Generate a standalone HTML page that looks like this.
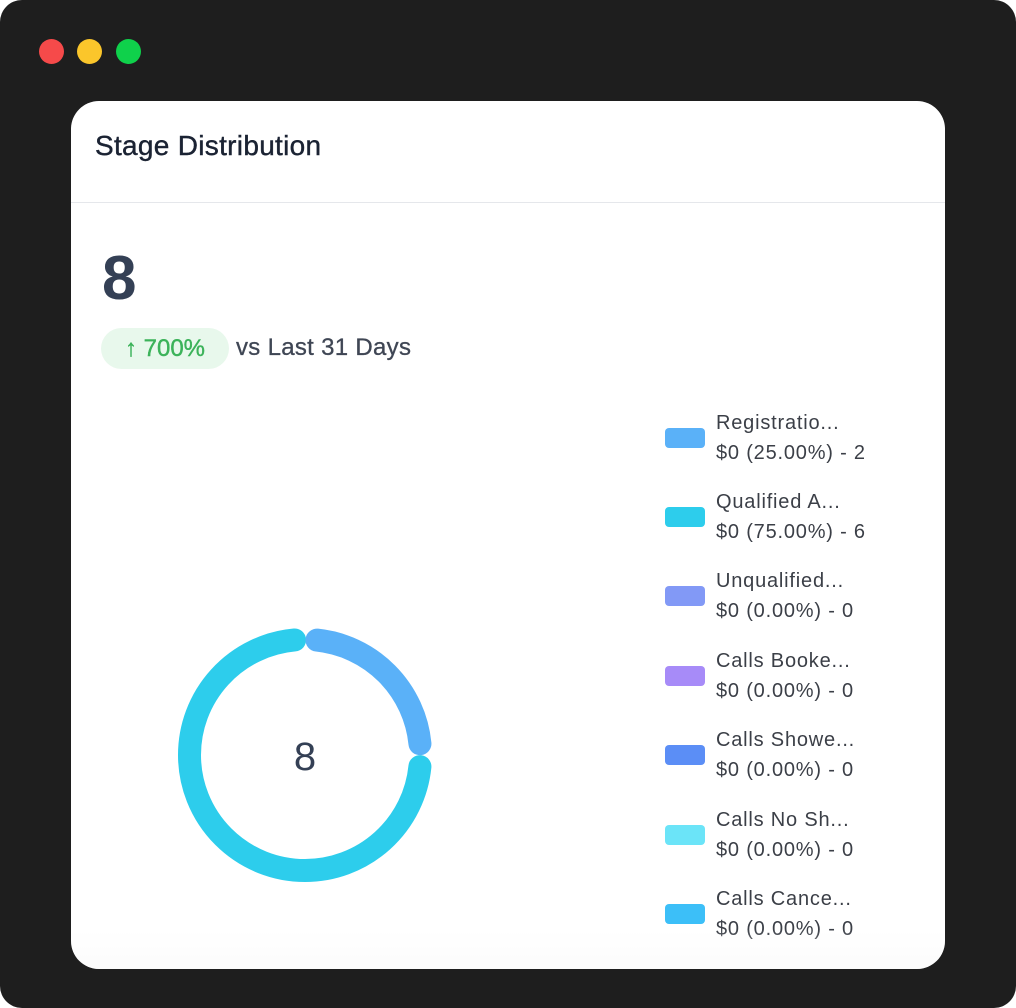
<!DOCTYPE html>
<html><head><meta charset="utf-8"><style>
html,body{margin:0;padding:0;background:#fff;}
body{width:1016px;height:1008px;position:relative;overflow:hidden;font-family:"Liberation Sans",sans-serif;}
.frame{position:absolute;left:0;top:0;width:1016px;height:1008px;background:#1e1e1e;border-radius:22px;}
.dot{position:absolute;top:39px;width:25px;height:25px;border-radius:50%;}
.card{position:absolute;left:71px;top:101px;width:874px;height:868px;background:#fff;border-radius:28px;overflow:hidden;}
.title{position:absolute;left:24px;top:29px;font-size:28px;letter-spacing:0.3px;color:#1b2333;-webkit-text-stroke:0.4px #1b2333;}
.hr{position:absolute;left:0;right:0;top:101px;height:1px;background:#e5e7eb;}
.big{position:absolute;left:31px;top:142px;font-size:62px;font-weight:bold;color:#344055;}
.pill{position:absolute;left:30px;top:227px;width:128px;height:41px;border-radius:21px;background:#e8f8ec;color:#3cb35a;font-size:24px;line-height:41px;text-align:center;-webkit-text-stroke:0.4px #3cb35a;}
.vs{position:absolute;left:165px;top:233px;font-size:24px;letter-spacing:0.3px;color:#3f4654;-webkit-text-stroke:0.3px #3f4654;}
.leg{position:absolute;left:594px;}
.sw{position:absolute;left:0;top:17px;width:40px;height:20px;border-radius:4px;}
.l1,.l2{position:absolute;left:51px;font-size:20px;letter-spacing:0.8px;color:#3b3f47;white-space:nowrap;}
.l1{top:1px}.l2{top:31px}
.fade{position:absolute;left:0;right:0;bottom:0;height:40px;background:linear-gradient(rgba(255,255,255,0),rgba(250,250,250,0.7));}
</style></head><body>
<div class="frame"></div>
<div class="dot" style="left:39px;background:#f64a4a"></div>
<div class="dot" style="left:77px;background:#fbc62b"></div>
<div class="dot" style="left:116px;background:#0fd14b"></div>
<div class="card">
<div class="title">Stage Distribution</div>
<div class="hr"></div>
<div class="big">8</div>
<div class="pill">↑ 700%</div>
<div class="vs">vs Last 31 Days</div>
<svg style="position:absolute;left:0;top:0" width="874" height="868">
<g transform="rotate(-90 234 654)">
<circle cx="234" cy="654" r="115.5" fill="none" stroke="#2dcdec" stroke-width="23" stroke-linecap="round" stroke-dasharray="522 800" stroke-dashoffset="-193"/>
<circle cx="234" cy="654" r="115.5" fill="none" stroke="#5ab1f8" stroke-width="23" stroke-linecap="round" stroke-dasharray="158 800" stroke-dashoffset="-12"/>
</g>
<text x="234" y="669" text-anchor="middle" font-size="40" fill="#344055" font-family="Liberation Sans, sans-serif">8</text>
</svg>
<div class="leg" style="top:310px"><div class="sw" style="background:#5ab1f8"></div><div class="l1">Registratio...</div><div class="l2">$0 (25.00%) - 2</div></div>
<div class="leg" style="top:389px"><div class="sw" style="background:#2dcdec"></div><div class="l1">Qualified A...</div><div class="l2">$0 (75.00%) - 6</div></div>
<div class="leg" style="top:468px"><div class="sw" style="background:#8299f6"></div><div class="l1">Unqualified...</div><div class="l2">$0 (0.00%) - 0</div></div>
<div class="leg" style="top:548px"><div class="sw" style="background:#a78bf8"></div><div class="l1">Calls Booke...</div><div class="l2">$0 (0.00%) - 0</div></div>
<div class="leg" style="top:627px"><div class="sw" style="background:#5b8ef6"></div><div class="l1">Calls Showe...</div><div class="l2">$0 (0.00%) - 0</div></div>
<div class="leg" style="top:707px"><div class="sw" style="background:#6be4f8"></div><div class="l1">Calls No Sh...</div><div class="l2">$0 (0.00%) - 0</div></div>
<div class="leg" style="top:786px"><div class="sw" style="background:#3cbff8"></div><div class="l1">Calls Cance...</div><div class="l2">$0 (0.00%) - 0</div></div>
<div class="fade"></div>
</div>
</body></html>
